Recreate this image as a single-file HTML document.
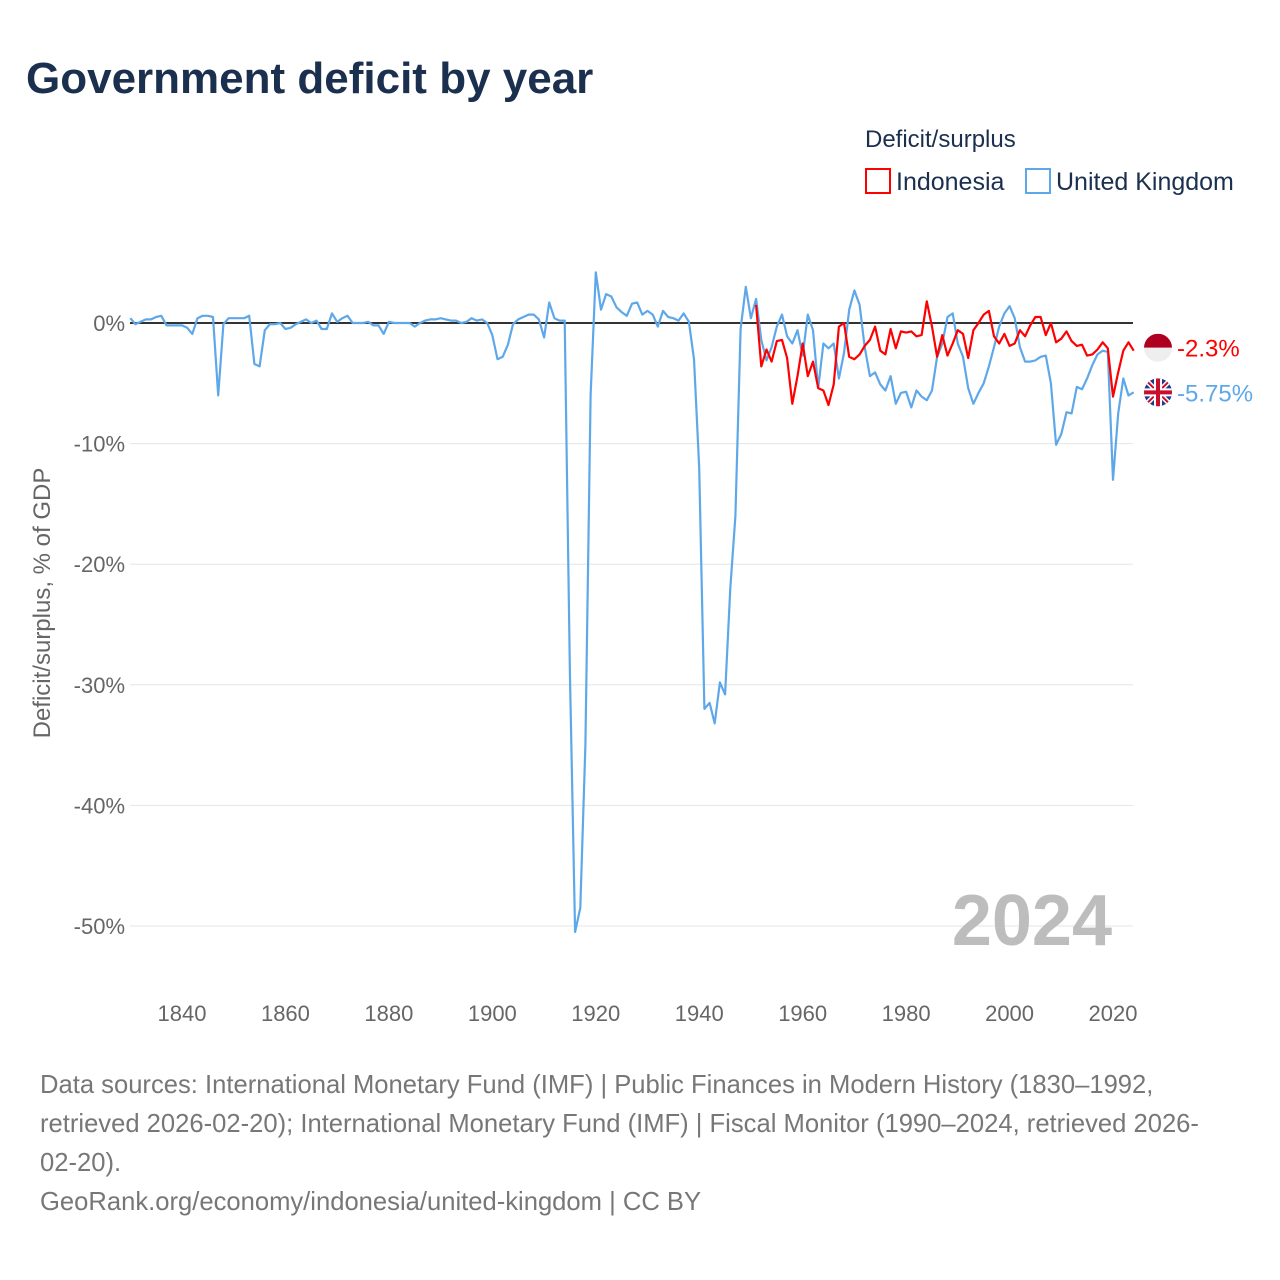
<!DOCTYPE html>
<html><head><meta charset="utf-8">
<style>
body{margin:0;background:#fff;font-family:"Liberation Sans",sans-serif;}
#wrap{position:relative;width:1280px;height:1280px;overflow:hidden;}
</style></head>
<body>
<div id="wrap">
<svg id="chart" width="1280" height="1280" xmlns="http://www.w3.org/2000/svg">
<text x="26" y="93" font-size="44" font-weight="bold" fill="#1b2f4e">Government deficit by year</text>
<text x="865" y="147" font-size="24" fill="#1b2f4e">Deficit/surplus</text>
<g>
<rect x="866" y="169" width="24" height="24" fill="none" stroke="#ff0000" stroke-width="2"/>
<text x="896" y="190" font-size="25" fill="#1b2f4e">Indonesia</text></g>
<g>
<rect x="1026" y="169" width="24" height="24" fill="none" stroke="#5ea8ea" stroke-width="2"/>
<text x="1056" y="190" font-size="25" fill="#1b2f4e">United Kingdom</text></g>
<text transform="translate(50,603) rotate(-90)" text-anchor="middle" font-size="24" fill="#666">Deficit/surplus, % of GDP</text>
<g id="grid"></g><g id="yt"></g><g id="xt"></g>
<text x="1112" y="945" text-anchor="end" font-size="72" font-weight="bold" fill="#bdbdbd">2024</text>
<g id="series"></g>
<g font-size="25.6" fill="#777">
<text x="40" y="1093">Data sources: International Monetary Fund (IMF) | Public Finances in Modern History (1830–1992,</text>
<text x="40" y="1132">retrieved 2026-02-20); International Monetary Fund (IMF) | Fiscal Monitor (1990–2024, retrieved 2026-</text>
<text x="40" y="1171">02-20).</text>
<text x="40" y="1210">GeoRank.org/economy/indonesia/united-kingdom | CC BY</text>
</g>
</svg>
</div>
<script>
const ukStart = 1830;
const ukValues = [0.4,-0.1,0.1,0.3,0.3,0.5,0.6,-0.2,-0.2,-0.2,
-0.2,-0.4,-0.9,0.4,0.6,0.6,0.5,-6.0,-0.1,0.4,
0.4,0.4,0.4,0.6,-3.4,-3.6,-0.6,-0.1,-0.1,0.0,
-0.5,-0.4,-0.1,0.1,0.3,0.0,0.2,-0.5,-0.5,0.8,
0.1,0.4,0.6,0.0,0.0,0.0,0.1,-0.2,-0.2,-0.9,
0.1,0.0,0.0,0.0,0.0,-0.3,0.0,0.2,0.3,0.3,
0.4,0.3,0.2,0.2,0.0,0.1,0.4,0.2,0.3,0.0,
-1.0,-3.0,-2.8,-1.8,-0.1,0.3,0.5,0.7,0.7,0.3,
-1.2,1.7,0.4,0.2,0.2,-29,-50.5,-48.5,-35,-6,
4.2,1.1,2.4,2.2,1.3,0.9,0.6,1.6,1.7,0.7,
1.0,0.7,-0.3,1.0,0.5,0.4,0.2,0.8,0.1,-3.0,
-12,-32,-31.5,-33.2,-29.8,-30.8,-22,-16,-0.5,3.0,
0.4,2.0,-1.4,-3.1,-2.0,-0.3,0.7,-1.1,-1.7,-0.6,
-2.7,0.7,-0.6,-5.4,-1.7,-2.1,-1.7,-4.6,-2.5,1.1,
2.7,1.5,-2.0,-4.4,-4.1,-5.1,-5.6,-4.4,-6.7,-5.8,
-5.7,-7.0,-5.6,-6.1,-6.4,-5.6,-2.8,-1.7,0.5,0.8,
-1.7,-2.8,-5.4,-6.7,-5.8,-5.0,-3.6,-2.0,-0.3,0.8,
1.4,0.4,-2.0,-3.2,-3.2,-3.1,-2.8,-2.7,-5.0,-10.1,
-9.2,-7.4,-7.5,-5.3,-5.5,-4.6,-3.5,-2.6,-2.3,-2.4,
-13.0,-7.5,-4.6,-6.0,-5.75];
const idStart = 1951;
const idValues = [1.5,-3.6,-2.2,-3.2,-1.5,-1.4,-2.9,-6.7,-4.4,
-1.7,-4.4,-3.2,-5.4,-5.6,-6.8,-5.1,-0.3,0.0,-2.8,
-3.0,-2.6,-1.9,-1.4,-0.3,-2.3,-2.6,-0.5,-2.1,-0.7,
-0.8,-0.7,-1.1,-1.0,1.8,-0.3,-2.8,-1.0,-2.7,-1.7,
-0.6,-0.9,-2.9,-0.6,0.0,0.7,1.0,-1.1,-1.7,-0.9,
-1.9,-1.7,-0.6,-1.1,-0.2,0.5,0.5,-1.0,0.0,-1.6,
-1.3,-0.7,-1.5,-1.9,-1.8,-2.7,-2.6,-2.2,-1.6,-2.1,
-6.1,-4.1,-2.3,-1.6,-2.3];
const yTicks = [0,-10,-20,-30,-40,-50];
const yTickLabels = ["0%","-10%","-20%","-30%","-40%","-50%"];
const xTicks = [1840,1860,1880,1900,1920,1940,1960,1980,2000,2020];
const idLabel = "-2.3%";
const ukLabel = "-5.75%";

const NS="http://www.w3.org/2000/svg";
const X0=130,X1=1134,Y0=323,PX10=120.6;
function xs(yr){return 182+(yr-1840)*(1113-182)/180;}
function ys(v){return Y0-v*PX10/10;}
function mk(tag,attrs,parent){const e=document.createElementNS(NS,tag);for(const k in attrs)e.setAttribute(k,attrs[k]);parent.appendChild(e);return e;}
const grid=document.getElementById('grid'),yt=document.getElementById('yt'),xt=document.getElementById('xt'),ser=document.getElementById('series');
yTicks.forEach((v,i)=>{
  if(v!==0){const l=mk('line',{x1:X0,x2:1133,y1:ys(v),y2:ys(v),stroke:'#e6e6e6','stroke-width':1},grid);
  
  }
  const t=mk('text',{x:125,y:ys(v)+8,'text-anchor':'end','font-size':22,fill:'#666'},yt);
  t.textContent=yTickLabels[i];
  
  
});
xTicks.forEach(yr=>{
  const t=mk('text',{x:xs(yr),y:1021,'text-anchor':'middle','font-size':22,fill:'#666'},xt);
  t.textContent=yr;
  
  
});
const zl=mk('line',{x1:X0,x2:1133,y1:Y0,y2:Y0,stroke:'#333','stroke-width':2},grid);


function path(start,vals,color){
  const d=vals.map((v,i)=>(i?'L':'M')+xs(start+i).toFixed(1)+','+ys(v).toFixed(1)).join('');
  return mk('path',{d:d,fill:'none',stroke:color,'stroke-width':2.2,'stroke-linejoin':'round'},ser);
}
const pu=path(ukStart,ukValues,'#5ea8ea');


const pi=path(idStart,idValues,'#ff0000');


const idLast=idValues[idValues.length-1], ukLast=ukValues[ukValues.length-1];
const yId=ys(idLast)-3, yUk=ys(ukLast);
const gi=mk('g',{},ser);


mk('clipPath',{id:'ci'},gi);
mk('circle',{cx:1158,cy:yId,r:14},document.getElementById('ci'));
mk('rect',{x:1144,y:yId-14,width:28,height:14,fill:'#b00020','clip-path':'url(#ci)'},gi);
mk('rect',{x:1144,y:yId,width:28,height:14,fill:'#eee','clip-path':'url(#ci)'},gi);
const ti=mk('text',{x:1177,y:yId+9,'font-size':24,fill:'#ff0000'},ser);
ti.textContent=idLabel;


const gu=mk('g',{},ser);


mk('clipPath',{id:'cu'},gu);
mk('circle',{cx:1158,cy:yUk,r:14},document.getElementById('cu'));
const fu=mk('g',{'clip-path':'url(#cu)'},gu);
mk('rect',{x:1144,y:yUk-14,width:28,height:28,fill:'#1f3a8a'},fu);
mk('path',{d:`M1144,${yUk-14}L1172,${yUk+14}M1172,${yUk-14}L1144,${yUk+14}`,stroke:'#fff','stroke-width':5},fu);
mk('path',{d:`M1144,${yUk-14}L1172,${yUk+14}M1172,${yUk-14}L1144,${yUk+14}`,stroke:'#c8102e','stroke-width':2},fu);
mk('path',{d:`M1158,${yUk-14}V${yUk+14}M1144,${yUk}H1172`,stroke:'#fff','stroke-width':8},fu);
mk('path',{d:`M1158,${yUk-14}V${yUk+14}M1144,${yUk}H1172`,stroke:'#c8102e','stroke-width':4},fu);
const tu=mk('text',{x:1177,y:yUk+9,'font-size':24,fill:'#5ea8ea'},ser);
tu.textContent=ukLabel;


</script>
</body></html>
